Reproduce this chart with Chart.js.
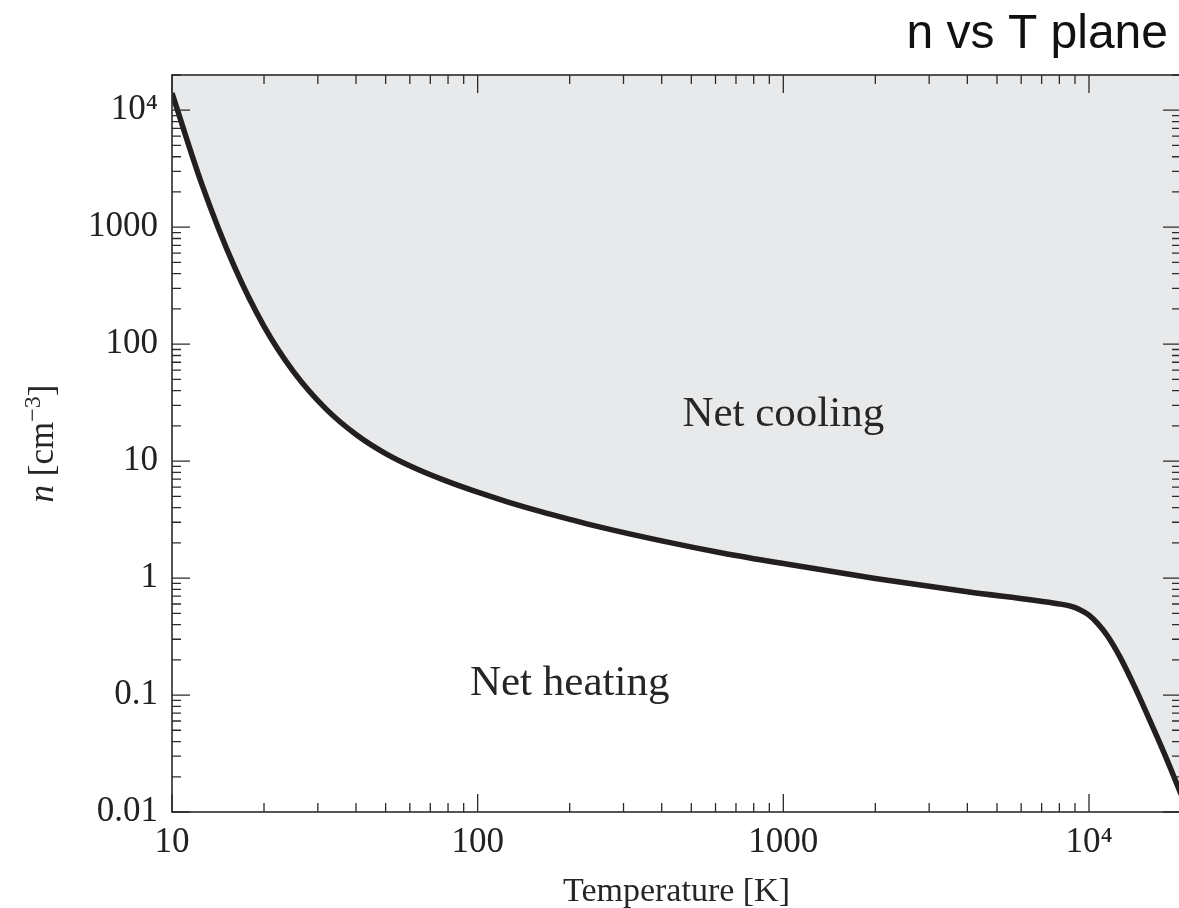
<!DOCTYPE html>
<html>
<head>
<meta charset="utf-8">
<script src="https://cdn.jsdelivr.net/npm/chart.js@4"></script>
<style>
  html, body { margin: 0; padding: 0; background: #fff; overflow: hidden; }
  #wrap { position: relative; width: 1190px; height: 908px; }
</style>
</head>
<body>
<div id="wrap"><canvas id="c"></canvas></div>
<script>
// 平衡曲线:n–T 平面上加热 = 冷却的那条线,线上方灰底为净冷却区。
// 数值从原图逐点读出(对数坐标)。
const TEMPERATURE = [10, 12.5, 16, 20, 25, 32, 40, 50, 63, 80, 100, 125, 160, 200, 250, 400, 630, 1000, 2000, 4000, 8000, 8700, 9300, 10000, 10700, 11500, 12600, 14100, 15800, 17800, 20000];
const DENSITY     = [14000, 2360, 459, 142, 58, 27.7, 16.9, 11.6, 8.6, 6.67, 5.42, 4.49, 3.72, 3.18, 2.74, 2.08, 1.64, 1.33, 0.993, 0.764, 0.601, 0.575, 0.539, 0.482, 0.406, 0.32, 0.214, 0.118, 0.0611, 0.0299, 0.0142];

const X_RANGE = [10, 20000];
const Y_RANGE = [0.01, 20000];
const X_TICKS = [10, 100, 1000, 10000];
const X_LABELS = ["10", "100", "1000", "10\u2074"];
const Y_TICKS = [0.01, 0.1, 1, 10, 100, 1000, 10000];
const Y_LABELS = ["0.01", "0.1", "1", "10", "100", "1000", "10\u2074"];

// 区域标注(数据坐标)
const REGION_NOTES = [
  { text: "Net cooling", T: 1000, n: 20 },
  { text: "Net heating", T: 200, n: 0.1 },
];

const INK = "#2b2b2b";
const SERIF = '"Liberation Serif", "Times New Roman", serif';

// 对数轴的主/次刻度值
function logTicks(min, max) {
  const out = [];
  for (let k = Math.floor(Math.log10(min)); k <= Math.ceil(Math.log10(max)); k++) {
    for (let m = 1; m <= 9; m++) {
      const v = m * Math.pow(10, k);
      if (v >= min * 0.999 && v <= max * 1.001) out.push({ v: v, major: m === 1 });
    }
  }
  return out;
}

// 边框 + 朝内的刻度线(四边都画)
const frame = {
  id: "frame",
  afterDatasetsDraw(chart) {
    const ctx = chart.ctx;
    const a = chart.chartArea;
    const x = chart.scales.x, y = chart.scales.y;
    ctx.save();
    ctx.strokeStyle = INK;
    ctx.lineWidth = 1.3;
    ctx.beginPath();
    for (const t of logTicks(X_RANGE[0], X_RANGE[1])) {
      const px = x.getPixelForValue(t.v);
      const len = t.major ? 18 : 9;
      ctx.moveTo(px, a.bottom); ctx.lineTo(px, a.bottom - len);
      ctx.moveTo(px, a.top); ctx.lineTo(px, a.top + len);
    }
    for (const t of logTicks(Y_RANGE[0], Y_RANGE[1])) {
      const py = y.getPixelForValue(t.v);
      const len = t.major ? 18 : 9;
      ctx.moveTo(a.left, py); ctx.lineTo(a.left + len, py);
      ctx.moveTo(a.right, py); ctx.lineTo(a.right - len, py);
    }
    ctx.stroke();
    ctx.lineWidth = 1.6;
    ctx.strokeRect(a.left, a.top, a.right - a.left, a.bottom - a.top);
    ctx.restore();
  },
  afterDraw(chart) {
    const ctx = chart.ctx;
    const a = chart.chartArea;
    const x = chart.scales.x, y = chart.scales.y;
    ctx.save();
    ctx.fillStyle = "#111";

    // 右上角标题
    ctx.font = '48px "Liberation Sans", Arial, sans-serif';
    ctx.textAlign = "right";
    ctx.textBaseline = "alphabetic";
    ctx.fillText("n vs T plane", 1168, 48);

    // 区域标注
    ctx.fillStyle = "#262626";
    ctx.font = "43px " + SERIF;
    ctx.textAlign = "center";
    for (const r of REGION_NOTES) {
      ctx.fillText(r.text, x.getPixelForValue(r.T), y.getPixelForValue(r.n));
    }

    // x 轴标题
    ctx.font = "34px " + SERIF;
    ctx.fillText("Temperature [K]", (a.left + a.right) / 2, 901);

    // y 轴标题:斜体 n + [cm^-3]
    ctx.translate(53, (a.top + a.bottom) / 2);
    ctx.rotate(-Math.PI / 2);
    ctx.textAlign = "left";
    const parts = [
      { s: "n", font: "italic 35px " + SERIF, dy: 0 },
      { s: " [cm", font: "35px " + SERIF, dy: 0 },
      { s: "\u22123", font: "24px " + SERIF, dy: -13 },
      { s: "]", font: "35px " + SERIF, dy: 0 },
    ];
    let total = 0;
    for (const p of parts) { ctx.font = p.font; p.w = ctx.measureText(p.s).width; total += p.w; }
    let cx = -total / 2;
    for (const p of parts) {
      ctx.font = p.font;
      ctx.fillText(p.s, cx, p.dy);
      cx += p.w;
    }
    ctx.restore();
  },
};

new Chart(document.getElementById("c"), {
  type: "line",
  data: {
    datasets: [{
      data: TEMPERATURE.map((t, i) => ({ x: t, y: DENSITY[i] })),
      borderColor: "#231f20",
      borderWidth: 5.5,
      backgroundColor: "#e8e9eb",
      fill: "end",
      pointRadius: 0,
      cubicInterpolationMode: "monotone",
    }],
  },
  options: {
    responsive: true,
    maintainAspectRatio: false,
    animation: false,
    layout: { padding: { top: 75, right: 9, left: 0, bottom: 0 } },
    plugins: { legend: { display: false }, tooltip: { enabled: false } },
    scales: {
      x: {
        type: "logarithmic",
        min: X_RANGE[0], max: X_RANGE[1],
        afterBuildTicks: s => { s.ticks = X_TICKS.map(v => ({ value: v })); },
        afterFit: s => { s.height = 96; },
        ticks: {
          autoSkip: false, maxRotation: 0, padding: 10,
          color: "#222", font: { family: SERIF, size: 35 },
          callback: (v, i) => X_LABELS[i],
        },
        grid: { display: false, drawTicks: false },
        border: { display: false },
      },
      y: {
        type: "logarithmic",
        min: Y_RANGE[0], max: Y_RANGE[1],
        afterBuildTicks: s => { s.ticks = Y_TICKS.map(v => ({ value: v })); },
        afterFit: s => { s.width = 172; },
        ticks: {
          autoSkip: false, padding: 14,
          color: "#222", font: { family: SERIF, size: 35 },
          callback: (v, i) => Y_LABELS[i],
        },
        grid: { display: false, drawTicks: false },
        border: { display: false },
      },
    },
  },
  plugins: [frame],
});
</script>
</body>
</html>
